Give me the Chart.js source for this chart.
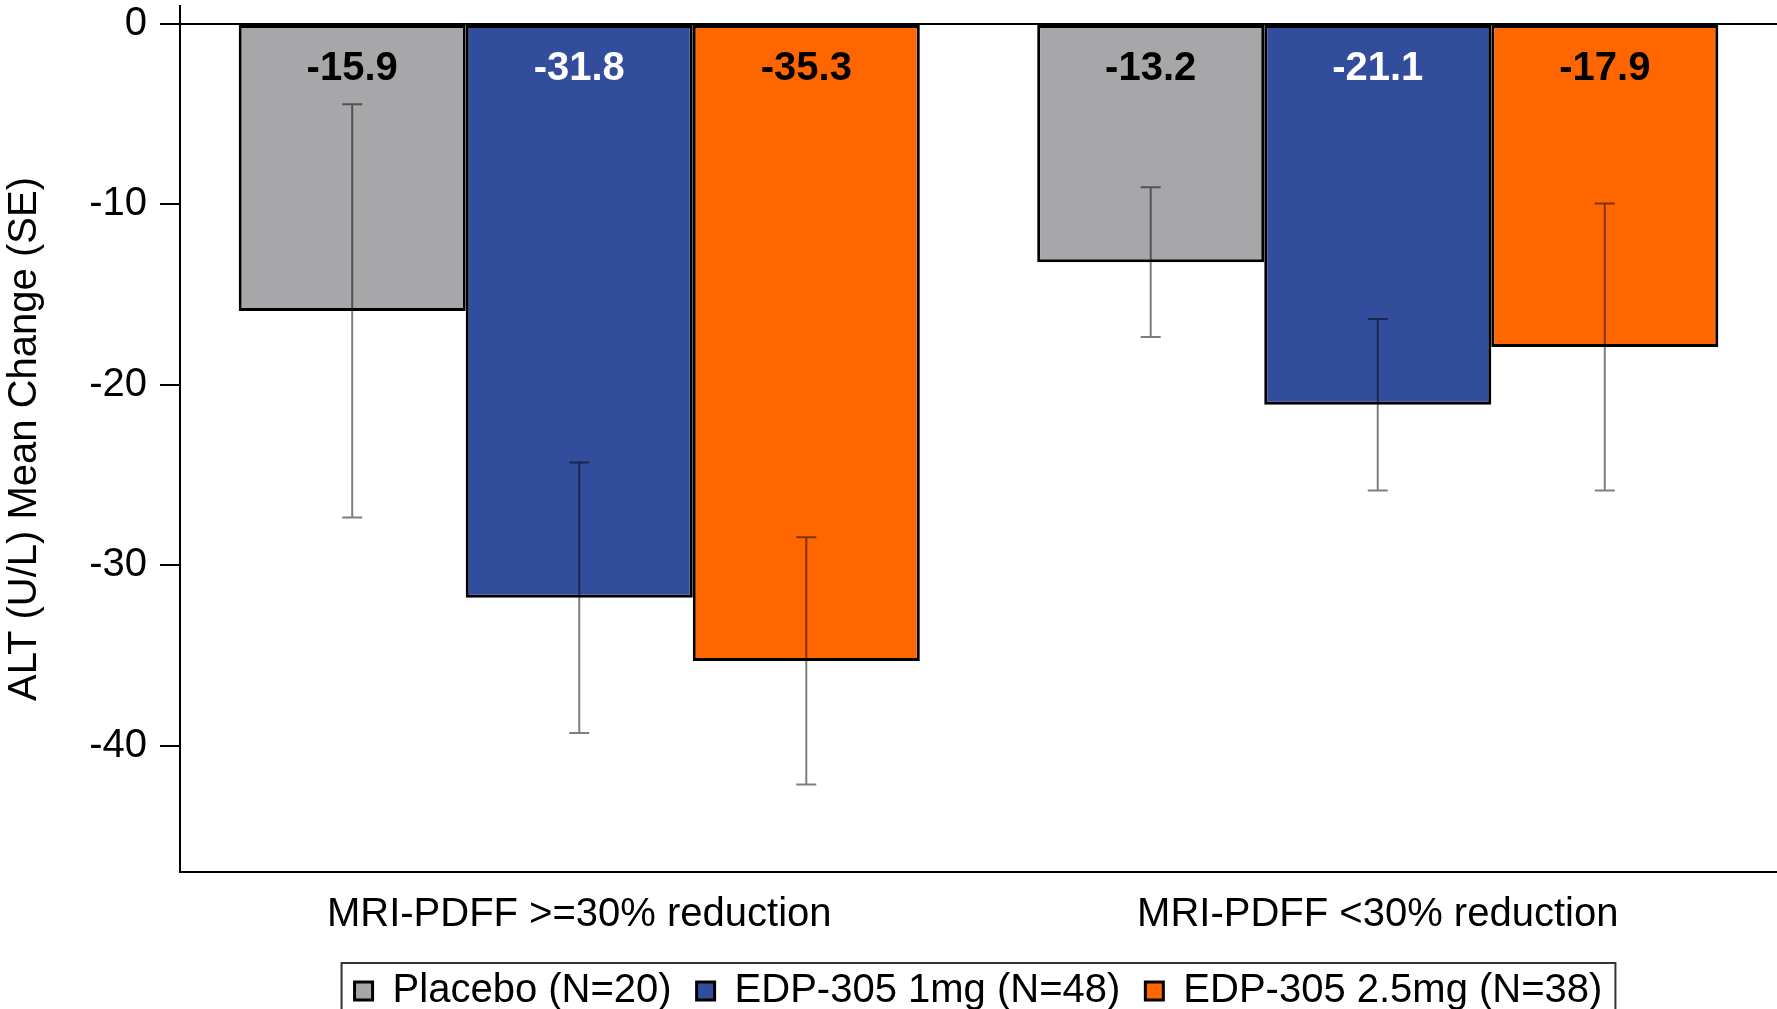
<!DOCTYPE html>
<html>
<head>
<meta charset="utf-8">
<title>ALT Mean Change by MRI-PDFF response</title>
<script src="https://cdn.jsdelivr.net/npm/chart.js@4.4.1/dist/chart.umd.min.js"></script>
<style>
  html, body { margin: 0; padding: 0; background: #fff; overflow: hidden; }
  #wrap { width: 1777px; height: 1021px; position: relative; }
</style>
</head>
<body>
<div id="wrap"><canvas id="altChart"></canvas></div>
<script>
// categories and series
const groups = ['MRI-PDFF >=30% reduction', 'MRI-PDFF <30% reduction'];
const seriesNames = ['Placebo (N=20)', 'EDP-305 1mg (N=48)', 'EDP-305 2.5mg (N=38)'];

// mean change and standard error per group
const placebo = [-15.9, -13.2];
const edp1mg = [-31.8, -21.1];
const edp25mg = [-35.3, -17.9];
const placeboSE = [11.45, 4.15];
const edp1mgSE = [7.5, 4.75];
const edp25mgSE = [6.85, 7.95];

const yTicks = [0, -10, -20, -30, -40];

const barColors = ['#a7a6a9', '#334d9d', '#ff6600'];
const labelColors = ['#000', '#fff', '#000'];

Chart.defaults.font.family = '"Liberation Sans", Arial, sans-serif';
Chart.defaults.color = '#000';

// mean labels just under the zero line, inside each bar
const valueLabels = {
    id: 'valueLabels',
    afterDatasetsDraw(chart) {
        const ctx = chart.ctx;
        const zeroY = chart.scales.y.getPixelForValue(0);
        ctx.save();
        ctx.font = 'bold 40px "Liberation Sans", Arial, sans-serif';
        ctx.textAlign = 'center';
        ctx.textBaseline = 'alphabetic';
        chart.data.datasets.forEach((ds, i) => {
            chart.getDatasetMeta(i).data.forEach((bar, j) => {
                ctx.fillStyle = labelColors[i];
                ctx.fillText(ds.data[j].toFixed(1), bar.x, zeroY + 56);
            });
        });
        ctx.restore();
    }
};

// +/- SE whiskers
const errorBars = {
    id: 'errorBars',
    afterDatasetsDraw(chart) {
        const ctx = chart.ctx;
        const y = chart.scales.y;
        ctx.save();
        ctx.strokeStyle = 'rgba(0,0,0,0.5)';
        ctx.lineWidth = 2;
        chart.data.datasets.forEach((ds, i) => {
            chart.getDatasetMeta(i).data.forEach((bar, j) => {
                const hi = y.getPixelForValue(ds.data[j] + ds.se[j]);
                const lo = y.getPixelForValue(ds.data[j] - ds.se[j]);
                ctx.beginPath();
                ctx.moveTo(bar.x, hi); ctx.lineTo(bar.x, lo);
                ctx.moveTo(bar.x - 10, hi); ctx.lineTo(bar.x + 10, hi);
                ctx.moveTo(bar.x - 10, lo); ctx.lineTo(bar.x + 10, lo);
                ctx.stroke();
            });
        });
        ctx.restore();
    }
};

// frame around the legend (runs off the bottom edge)
const legendFrame = {
    id: 'legendFrame',
    afterDraw(chart) {
        const boxes = chart.legend.legendHitBoxes;
        if (!boxes || !boxes.length) return;
        const first = boxes[0], last = boxes[boxes.length - 1];
        const ctx = chart.ctx;
        const left = first.left - 13;
        const right = last.left + last.width + 13;
        ctx.save();
        ctx.strokeStyle = '#333';
        ctx.lineWidth = 2;
        ctx.strokeRect(left, first.top - 8, right - left, 200);
        ctx.restore();
    }
};

function makeSet(name, values, se, idx) {
    return {
        label: name,
        data: values,
        se: se,
        backgroundColor: barColors[idx],
        borderColor: '#000',
        borderWidth: 3,
        borderSkipped: false,
        barPercentage: 1.0,
        categoryPercentage: 0.853
    };
}

new Chart(document.getElementById('altChart'), {
    type: 'bar',
    data: {
        labels: groups,
        datasets: [
            makeSet(seriesNames[0], placebo, placeboSE, 0),
            makeSet(seriesNames[1], edp1mg, edp1mgSE, 1),
            makeSet(seriesNames[2], edp25mg, edp25mgSE, 2)
        ]
    },
    options: {
        responsive: true,
        maintainAspectRatio: false,
        animation: false,
        events: [],
        layout: { padding: { top: 6, left: 0, right: 0, bottom: 0 } },
        plugins: {
            tooltip: { enabled: false },
            legend: {
                position: 'bottom',
                fullSize: false,
                labels: {
                    font: { size: 40 },
                    color: '#000',
                    boxWidth: 18,
                    boxHeight: 18,
                    padding: 25
                }
            }
        },
        scales: {
            x: {
                grid: { display: false, drawTicks: false },
                border: { display: true, color: '#000', width: 2 },
                ticks: { font: { size: 40 }, color: '#000', padding: 19, maxRotation: 0 },
                afterFit(scale) {
                    scale.height -= 12;
                }
            },
            y: {
                min: -47,
                max: 1,
                afterBuildTicks(scale) {
                    scale.ticks = yTicks.map(v => ({ value: v }));
                },
                afterFit(scale) {
                    scale.width = 180;
                    scale.paddingTop = 0;
                    scale.paddingBottom = 0;
                },
                grid: {
                    color: ctx => (ctx.tick && ctx.tick.value === 0 ? '#000' : 'rgba(0,0,0,0)'),
                    tickColor: '#000',
                    lineWidth: 2,
                    tickLength: 20
                },
                border: { display: true, color: '#000', width: 2 },
                ticks: { font: { size: 40 }, color: '#000', padding: 13 },
                title: {
                    display: true,
                    text: 'ALT (U/L) Mean Change (SE)',
                    font: { size: 40 },
                    color: '#000',
                    padding: { top: 1, bottom: 0 }
                }
            }
        }
    },
    plugins: [valueLabels, errorBars, legendFrame]
});
</script>
</body>
</html>
